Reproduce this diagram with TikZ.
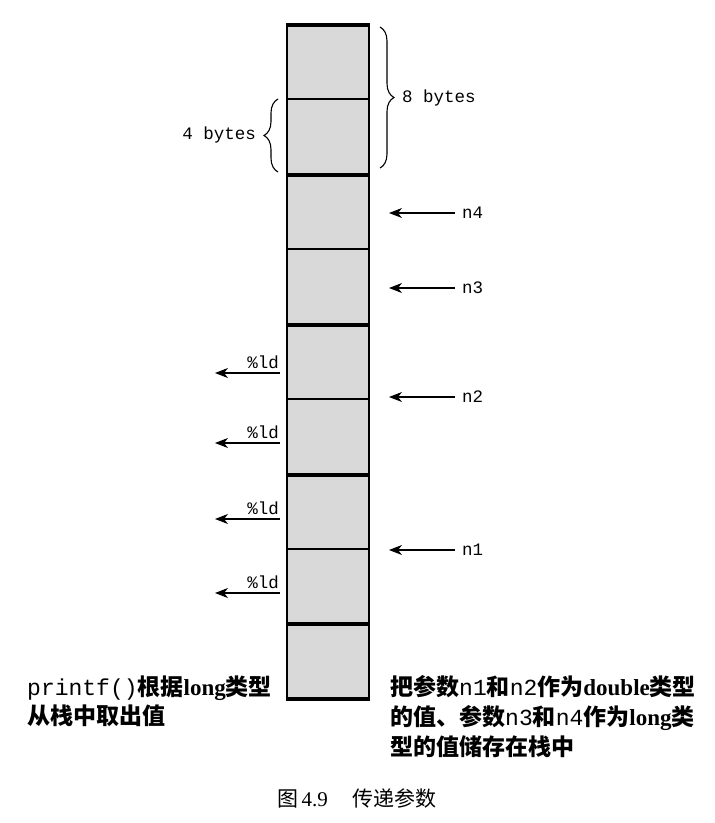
\documentclass[tikz,border=0pt]{standalone}
\usepackage{fontspec}
\setmainfont{Liberation Serif}
\setmonofont{Liberation Mono}
\newfontfamily\cjk{Noto Sans CJK SC}
\usetikzlibrary{arrows.meta,decorations.pathreplacing}
\begin{document}
\begin{tikzpicture}[x=1pt,y=-1pt,
  cell/.style={draw=black,fill=gray!30,line width=2.2pt,minimum width=82pt,inner sep=0pt,anchor=north},
  sep/.style={line width=4.5pt,line cap=butt},
  lbl/.style={font=\fontsize{17.5}{20}\selectfont\ttfamily,inner sep=0pt},
  arr/.style={line width=1.1pt,-{Stealth[length=13pt,width=10pt,inset=4pt]}},
  brc/.style={decorate,decoration={brace,amplitude=14pt},line width=1.1pt},
  ctext/.style={font=\fontsize{23}{30}\selectfont\cjk\bfseries,inner sep=0pt,anchor=base west}
]
\useasboundingbox (0,0) rectangle (715,823);
% stack cells
\node[cell,minimum height=73pt] (c1) at (328,25) {};
\node[cell,minimum height=75pt] (c2) at (328,98) {};
\node[cell,minimum height=75pt] (c3) at (328,173) {};
\node[cell,minimum height=75pt] (c4) at (328,248) {};
\node[cell,minimum height=75pt] (c5) at (328,323) {};
\node[cell,minimum height=75pt] (c6) at (328,398) {};
\node[cell,minimum height=75pt] (c7) at (328,473) {};
\node[cell,minimum height=74pt] (c8) at (328,548) {};
\node[cell,minimum height=75pt] (c9) at (328,622) {};
% thick 8-byte separators
\draw[sep] (c1.north west) -- (c1.north east);
\draw[sep] (c2.south west) -- (c2.south east);
\draw[sep] (c4.south west) -- (c4.south east);
\draw[sep] (c6.south west) -- (c6.south east);
\draw[sep] (c8.south west) -- (c8.south east);
\draw[sep] (c9.south west) -- (c9.south east);
% braces
\coordinate (b8a) at (380,27);
\coordinate (b8b) at (380,168);
\coordinate (b4a) at (278,172);
\coordinate (b4b) at (278,99);
\draw[brc] (b8a) -- (b8b);
\draw[brc] (b4a) -- (b4b);
\node[lbl,anchor=west] (t8) at (402,98) {8 bytes};
\node[lbl,anchor=east] (t4) at (256,135) {4 bytes};
% right-side argument arrows
\node[lbl,anchor=west] (n4) at (462,213) {n4};
\node[lbl,anchor=west] (n3) at (462,288) {n3};
\node[lbl,anchor=west] (n2) at (462,397) {n2};
\node[lbl,anchor=west] (n1) at (462,550) {n1};
\coordinate (e4) at (389,213);
\coordinate (e3) at (389,288);
\coordinate (e2) at (389,397);
\coordinate (e1) at (389,550);
\draw[arr] ([xshift=-7pt]n4.west) -- (e4);
\draw[arr] ([xshift=-7pt]n3.west) -- (e3);
\draw[arr] ([xshift=-7pt]n2.west) -- (e2);
\draw[arr] ([xshift=-7pt]n1.west) -- (e1);
% left-side %ld arrows
\coordinate (s1) at (280,373); \coordinate (d1) at (215,373);
\coordinate (s2) at (280,443); \coordinate (d2) at (215,443);
\coordinate (s3) at (280,519); \coordinate (d3) at (215,519);
\coordinate (s4) at (280,593); \coordinate (d4) at (215,593);
\node[lbl,anchor=base east] (l1) at (279,368) {\%ld};
\node[lbl,anchor=base east] (l2) at (279,438) {\%ld};
\node[lbl,anchor=base east] (l3) at (279,514) {\%ld};
\node[lbl,anchor=base east] (l4) at (279,588) {\%ld};
\draw[arr] (s1) -- (d1);
\draw[arr] (s2) -- (d2);
\draw[arr] (s3) -- (d3);
\draw[arr] (s4) -- (d4);
% bottom texts
\node[ctext] (lt1) at (27,695) {\mdseries\ttfamily printf()\cjk\bfseries 根据{\rmfamily long}类型};
\node[ctext] (lt2) at (27,724) {从栈中取出值};
\node[ctext] (rt1) at (390,695) {把参数{\ttfamily\mdseries n1}和{\ttfamily\mdseries n2}作为{\rmfamily double}类型};
\node[ctext] (rt2) at (390,725) {的值、参数{\ttfamily\mdseries n3}和{\ttfamily\mdseries n4}作为{\rmfamily long}类};
\node[ctext] (rt3) at (390,755) {型的值储存在栈中};
% caption
\node[font=\fontsize{21}{24}\selectfont\cjk,inner sep=0pt,anchor=base] (cap) at (357,806) {图\,{\rmfamily 4.9}\hspace{1.2em}传递参数};
\end{tikzpicture}
\end{document}
